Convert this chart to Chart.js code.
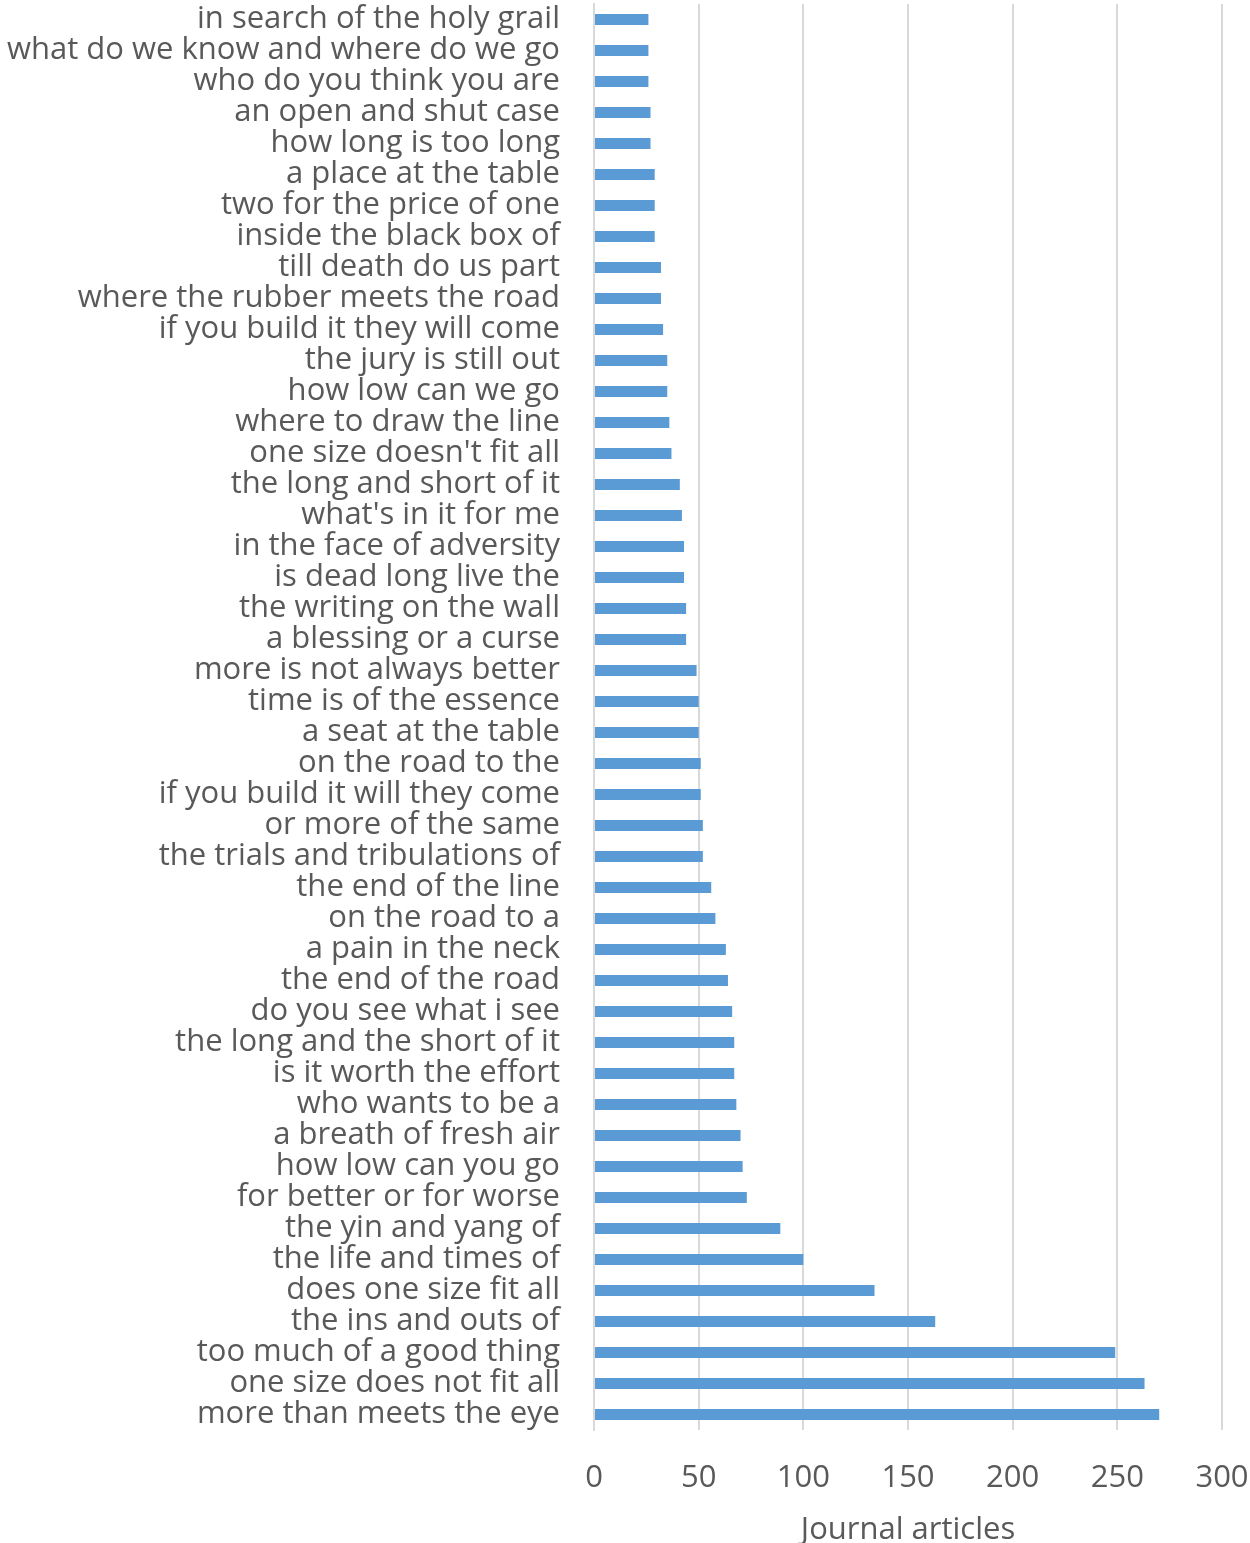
<!DOCTYPE html>
<html>
<head>
<meta charset="utf-8">
<script src="https://cdn.jsdelivr.net/npm/chart.js@4.4.0/dist/chart.umd.min.js"></script>
<style>
    html, body { margin: 0; padding: 0; background: #ffffff; }
    #chart-wrap { width: 1250px; height: 1543px; }
</style>
</head>
<body>
<div id="chart-wrap"><canvas id="phrases-bar-chart"></canvas></div>
<script>
// phrases, top of chart first
const phrases = [
    "in search of the holy grail",
    "what do we know and where do we go",
    "who do you think you are",
    "an open and shut case",
    "how long is too long",
    "a place at the table",
    "two for the price of one",
    "inside the black box of",
    "till death do us part",
    "where the rubber meets the road",
    "if you build it they will come",
    "the jury is still out",
    "how low can we go",
    "where to draw the line",
    "one size doesn't fit all",
    "the long and short of it",
    "what's in it for me",
    "in the face of adversity",
    "is dead long live the",
    "the writing on the wall",
    "a blessing or a curse",
    "more is not always better",
    "time is of the essence",
    "a seat at the table",
    "on the road to the",
    "if you build it will they come",
    "or more of the same",
    "the trials and tribulations of",
    "the end of the line",
    "on the road to a",
    "a pain in the neck",
    "the end of the road",
    "do you see what i see",
    "the long and the short of it",
    "is it worth the effort",
    "who wants to be a",
    "a breath of fresh air",
    "how low can you go",
    "for better or for worse",
    "the yin and yang of",
    "the life and times of",
    "does one size fit all",
    "the ins and outs of",
    "too much of a good thing",
    "one size does not fit all",
    "more than meets the eye"
];

const journalArticles = [
    26, 26, 26, 27, 27, 29, 29, 29, 32, 32,
    33, 35, 35, 36, 37, 41, 42, 43, 43, 44,
    44, 49, 50, 50, 51, 51, 52, 52, 56, 58,
    63, 64, 66, 67, 67, 68, 70, 71, 73, 89,
    100, 134, 163, 249, 263, 270
];

const xTicks = [0, 50, 100, 150, 200, 250, 300];
const xTitle = "Journal articles";

window.onload = createPhrasesChart;

function createPhrasesChart() {
    const ctx = document.querySelector("#phrases-bar-chart");
    const textColor = "#595959";
    const fontFamily = "'Open Sans', sans-serif";

    const data = {
        labels: phrases,
        datasets: [{
            label: xTitle,
            data: journalArticles,
            backgroundColor: "#5b9bd5",
            barPercentage: 0.36,
            categoryPercentage: 1.0
        }]
    };

    const options = {
        indexAxis: "y",
        responsive: true,
        maintainAspectRatio: false,
        animation: false,
        layout: {
            padding: { top: 4, right: 28, bottom: 0, left: 0 }
        },
        scales: {
            x: {
                min: 0,
                max: 300,
                afterBuildTicks: (axis) => {
                    axis.ticks = xTicks.map(v => ({ value: v }));
                },
                afterFit: (axis) => {
                    axis.height = 113;
                    axis.paddingLeft = 0;
                    axis.paddingRight = 0;
                },
                grid: {
                    color: "#d9d9d9",
                    lineWidth: 2,
                    drawTicks: false
                },
                border: { display: false },
                ticks: {
                    color: textColor,
                    padding: 30,
                    maxRotation: 0,
                    font: { family: fontFamily, size: 31 }
                },
                title: {
                    display: true,
                    text: xTitle,
                    color: textColor,
                    padding: { top: 8, bottom: -6 },
                    font: { family: fontFamily, size: 31 }
                }
            },
            y: {
                afterFit: (axis) => {
                    axis.width = 594;
                    axis.paddingTop = 0;
                    axis.paddingBottom = 0;
                },
                grid: { display: false, drawTicks: false },
                border: { display: true, color: "#d9d9d9", width: 2 },
                ticks: {
                    color: textColor,
                    padding: 34,
                    autoSkip: false,
                    font: { family: fontFamily, size: 31 }
                }
            }
        },
        plugins: {
            legend: { display: false },
            tooltip: { enabled: false }
        }
    };

    const config = {
        type: "bar",
        data: data,
        options: options
    };
    const chartStatus = Chart.getChart("phrases-bar-chart");
    if (chartStatus != undefined) {
        chartStatus.destroy();
    }
    new Chart(ctx, config);
}
</script>
</body>
</html>
